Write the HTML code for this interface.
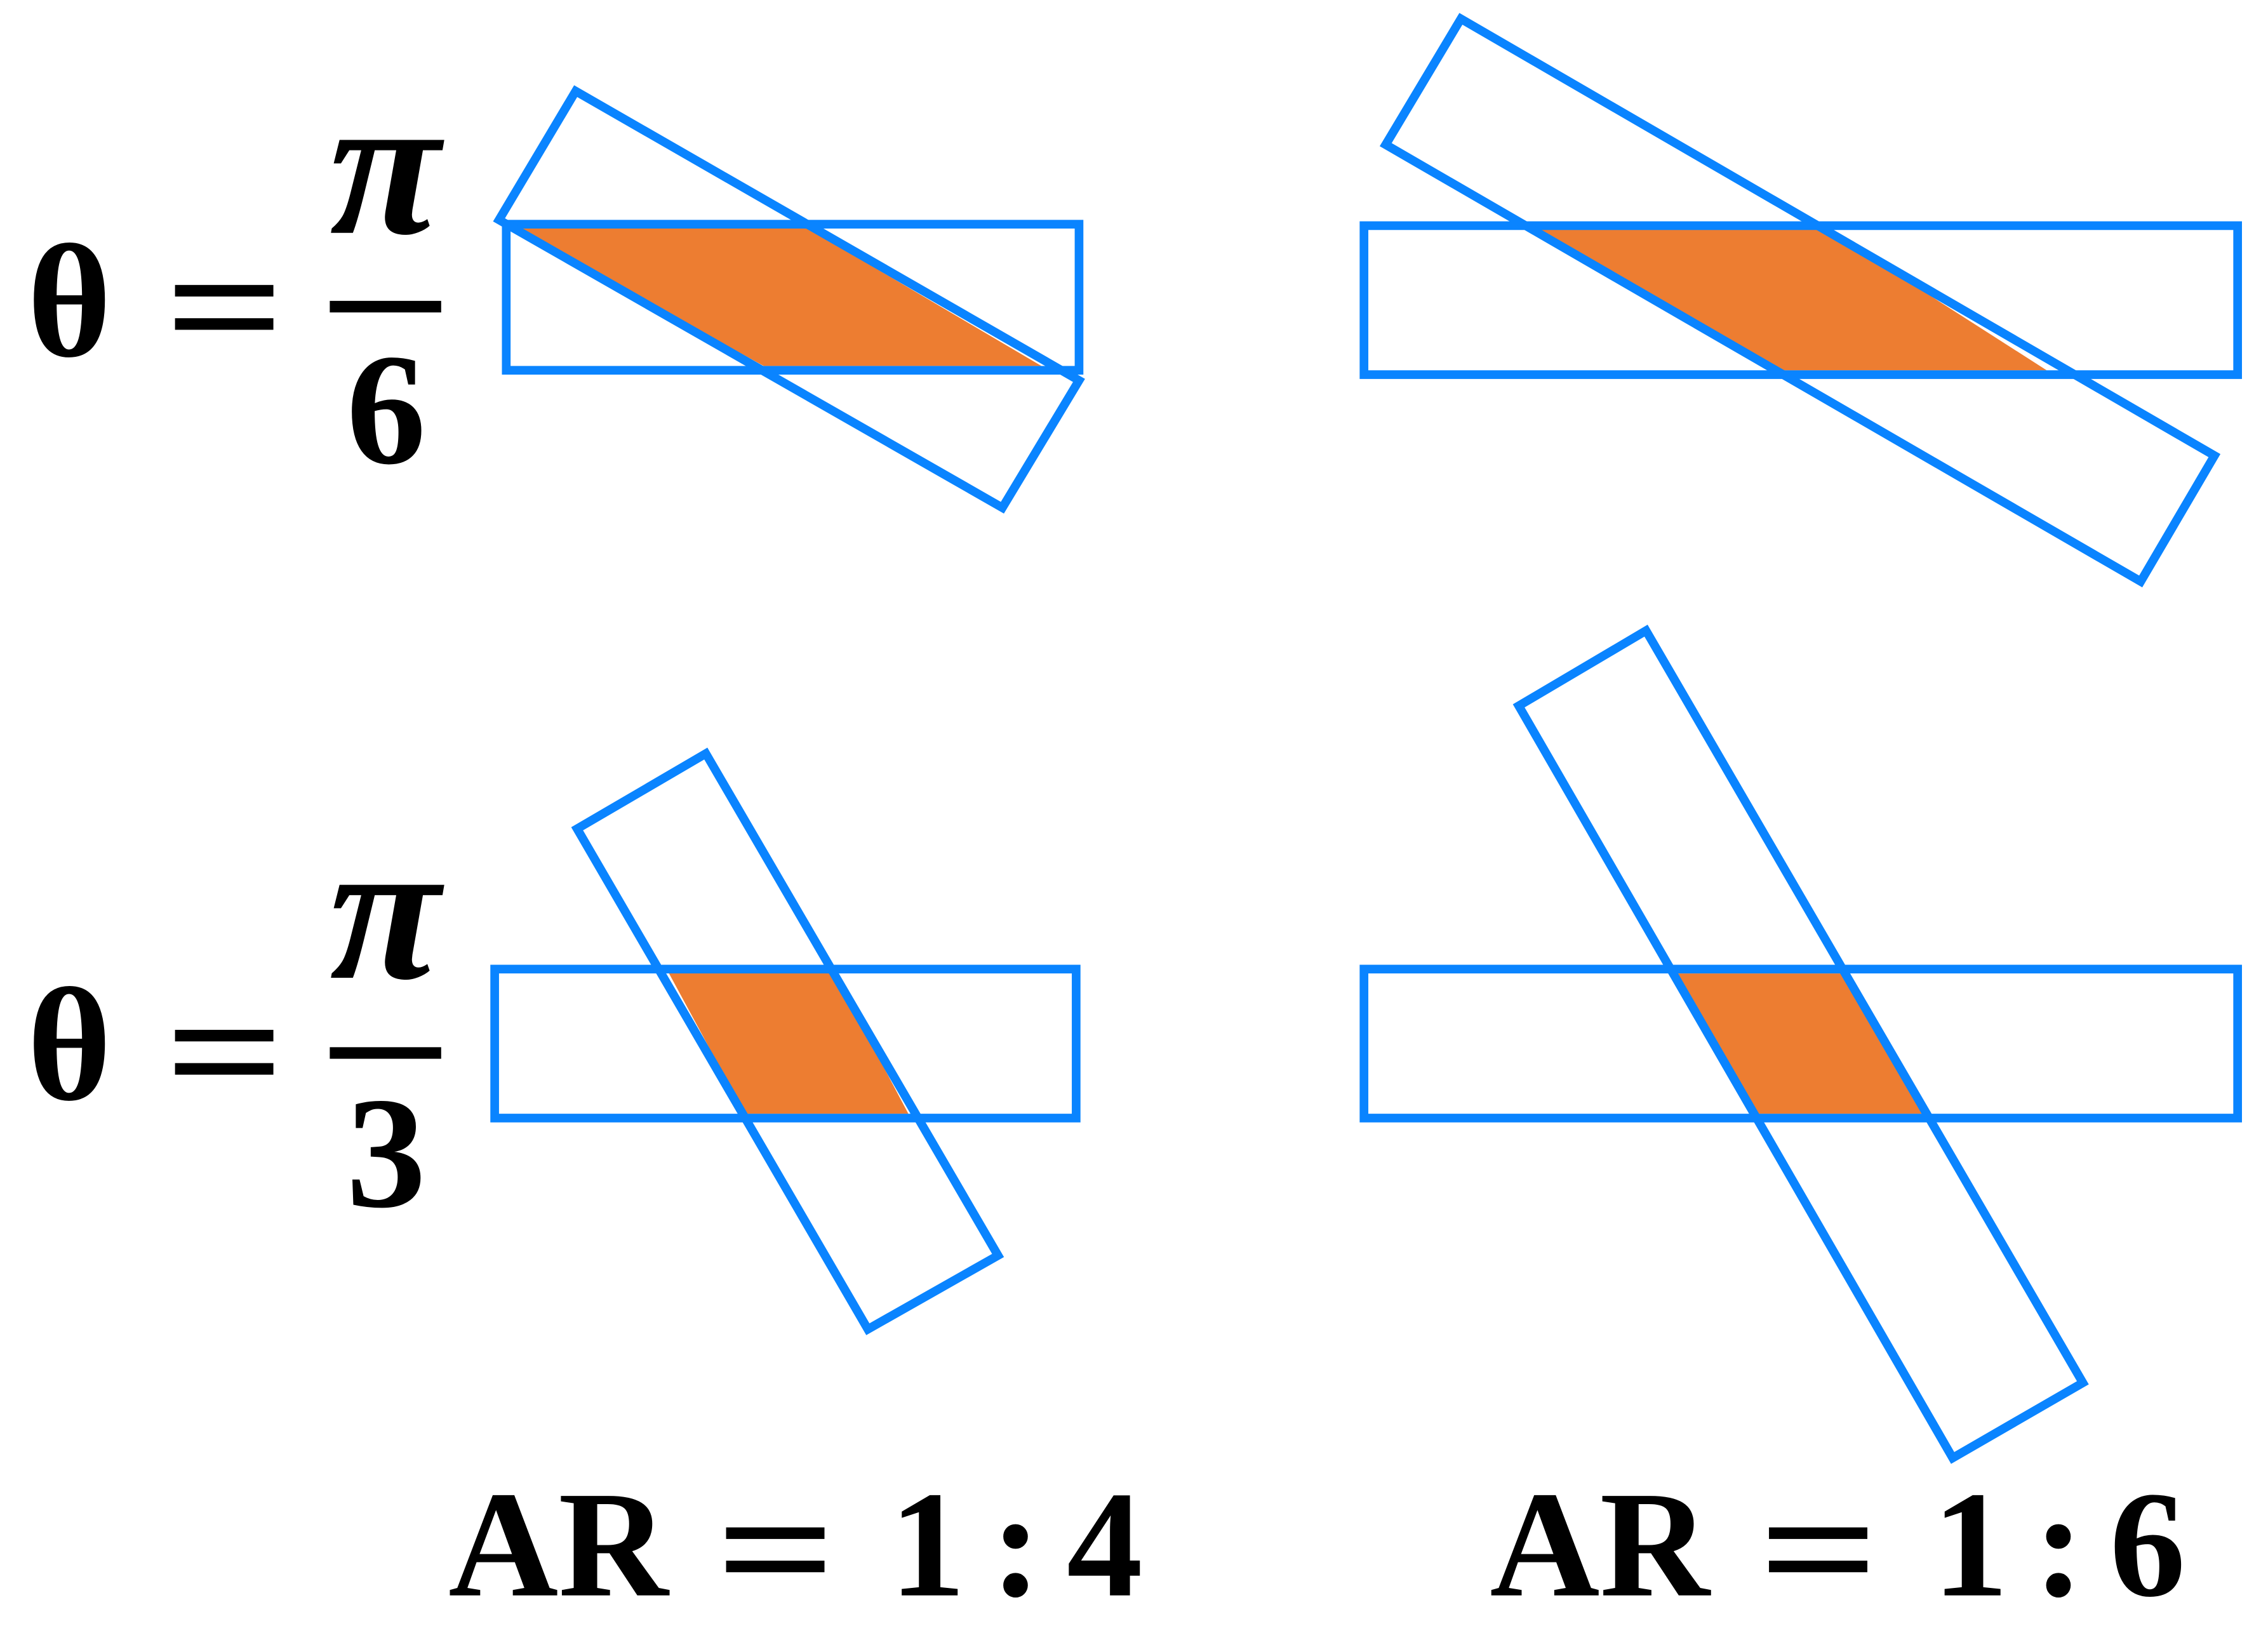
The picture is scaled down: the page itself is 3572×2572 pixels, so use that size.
<!DOCTYPE html>
<html><head><meta charset="utf-8"><style>
html,body{margin:0;padding:0;background:#fff;}
svg{display:block;}
text{font-family:"Liberation Serif",serif;font-weight:bold;fill:#000;}
</style></head><body>
<svg id="fig" width="3572" height="2572" viewBox="0 0 1568 1129" xmlns="http://www.w3.org/2000/svg">
<g id="panels"></g>
<g>
  <text x="48" y="246" font-size="112" text-anchor="middle">θ</text>
  <rect x="121" y="197" width="68" height="8"/><rect x="121" y="220" width="68" height="8"/>
  <text x="266" y="161" font-size="140" font-style="italic" text-anchor="middle">π</text>
  <rect x="228" y="208" width="77" height="8"/>
  <text x="267" y="320" font-size="110" text-anchor="middle">6</text>
</g>
<g>
  <text x="48" y="760" font-size="112" text-anchor="middle">θ</text>
  <rect x="121" y="712" width="68" height="8"/><rect x="121" y="735" width="68" height="8"/>
  <text x="266" y="676" font-size="140" font-style="italic" text-anchor="middle">π</text>
  <rect x="228" y="724" width="77" height="8"/>
  <text x="267" y="834" font-size="110" text-anchor="middle">3</text>
</g>
<g>
  <text x="310" y="1103" font-size="105" textLength="152" lengthAdjust="spacingAndGlyphs">AR</text>
  <rect x="502" y="1056" width="68" height="8"/><rect x="502" y="1079" width="68" height="8"/>
  <text x="615" y="1103" font-size="105" textLength="175" lengthAdjust="spacing">1:4</text>
</g>
<g>
  <text x="1030" y="1103" font-size="105" textLength="152" lengthAdjust="spacingAndGlyphs">AR</text>
  <rect x="1223" y="1056" width="68" height="8"/><rect x="1223" y="1079" width="68" height="8"/>
  <text x="1336" y="1103" font-size="105" textLength="175" lengthAdjust="spacing">1:6</text>
</g>
</svg>
<script>
const panelNames = ['pi6-ar14','pi6-ar16','pi3-ar14','pi3-ar16'];
const horizRects = [[350,155,746,256],[943,156,1547,259],[342,670,744,773],[943,670,1547,773]];
const rotRects = [
  [[398,63],[746,263],[693,351],[345,152]],
  [[1010,13],[1531,315],[1480,402],[958,100]],
  [[488,521],[690,868],[600,919],[399,573]],
  [[1138,436],[1440,956],[1350,1008],[1050,488]]
];
const overlaps = [
  [[355,157],[557,157],[720,253],[528,253]],
  [[1058,158],[1262,158],[1415,256],[1230,256]],
  [[462,672],[576,672],[628,770],[515,770]],
  [[1159,673],[1273,673],[1330,770],[1214,770]]
];
const NS='http://www.w3.org/2000/svg';
const g=document.getElementById('panels');
const pts=a=>a.map(p=>p.join(',')).join(' ');
panelNames.forEach((n,i)=>{
  const grp=document.createElementNS(NS,'g');
  
  
  const ov=document.createElementNS(NS,'polygon');
  ov.setAttribute('points',pts(overlaps[i]));
  ov.setAttribute('fill','#ED7D31');
  
  
  grp.appendChild(ov);
  const h=horizRects[i];
  const r=document.createElementNS(NS,'rect');
  r.setAttribute('x',h[0]);r.setAttribute('y',h[1]);
  r.setAttribute('width',h[2]-h[0]);r.setAttribute('height',h[3]-h[1]);
  r.setAttribute('fill','none');r.setAttribute('stroke','#0A84FF');r.setAttribute('stroke-width','6');
  
  
  grp.appendChild(r);
  const p=document.createElementNS(NS,'polygon');
  p.setAttribute('points',pts(rotRects[i]));
  p.setAttribute('fill','none');p.setAttribute('stroke','#0A84FF');p.setAttribute('stroke-width','6');
  
  
  grp.appendChild(p);
  g.appendChild(grp);
});
</script>
</body></html>
